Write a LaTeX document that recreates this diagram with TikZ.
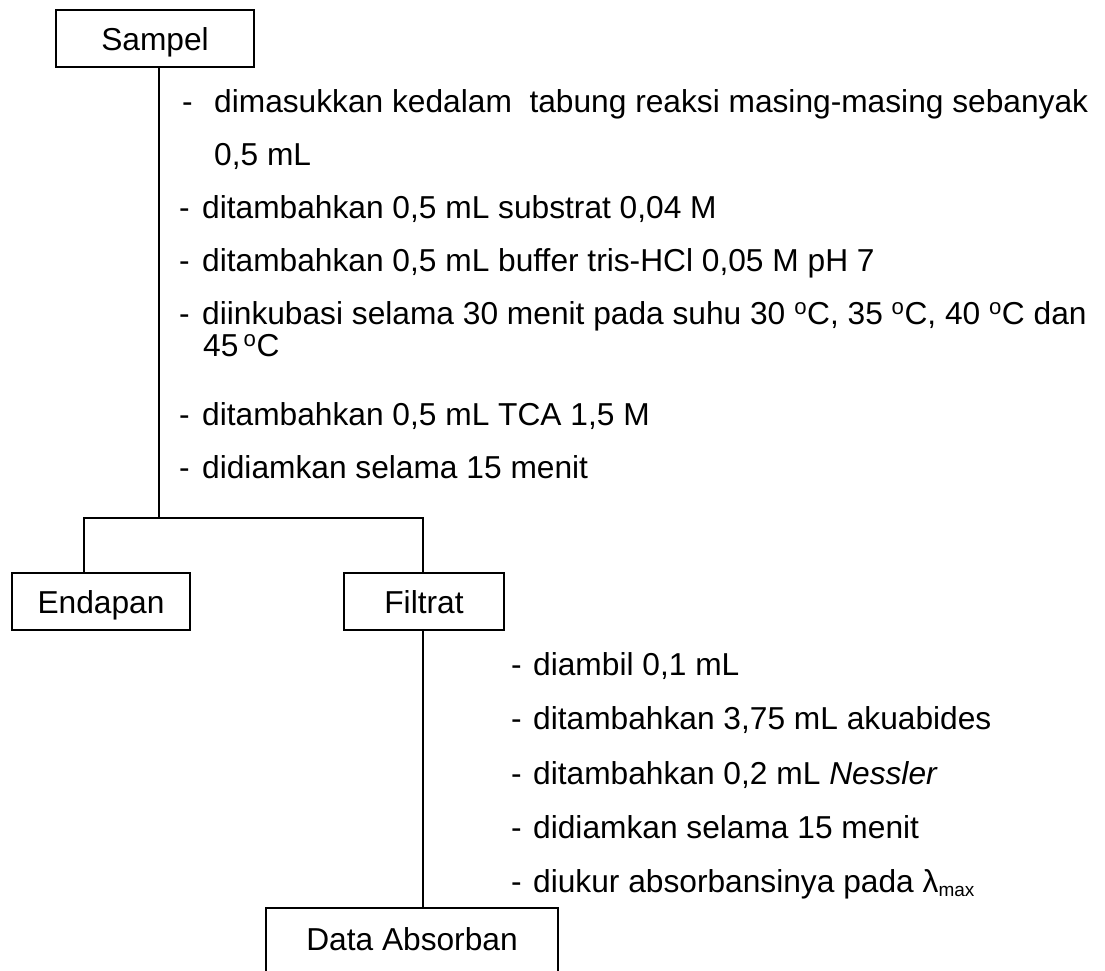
\documentclass[tikz,border=0pt]{standalone}
\usepackage{fontspec}
\setmainfont{Liberation Sans}
\begin{document}
\begin{tikzpicture}[x=1pt,y=-1pt,
  box/.style={draw,line width=1.8pt,rectangle,inner xsep=0pt,inner ysep=17pt,
    text height=23pt,text depth=0pt,anchor=base,font=\fontsize{31.7}{38}\selectfont},
  item/.style={anchor=base west,inner sep=0pt,font=\fontsize{31.7}{38}\selectfont},
  conn/.style={line width=1.8pt}]
\useasboundingbox (0,0) rectangle (1105,970);
\clip (0,0) rectangle (1105,970);
% boxes
\node[box,minimum width=198pt] (sampel) at (155,50) {Sampel};
\node[box,minimum width=178pt] (endapan) at (101,613) {Endapan};
\node[box,minimum width=160pt] (filtrat) at (424,613) {Filtrat};
\node[box,minimum width=292pt,inner ysep=19pt,text depth=10pt] (data) at (412,950) {Data Absorban};
% junctions
\coordinate (j) at (159,518);
\coordinate (jl) at (84,518);
\coordinate (jr) at (423,518);
\draw[conn] (sampel.south -| j) -- (j);
\draw[conn] (endapan.north -| jl) -- (jl) -- (jr) -- (filtrat.north -| jr);
\draw[conn] (filtrat.south -| jr) -- (data.north -| jr);
% upper list
\node[item] (u1) at (182,112) {\makebox[32pt][l]{-}dimasukkan kedalam\ \ tabung reaksi masing-masing sebanyak};
\node[item] (u1b) at (214,165) {0,5 mL};
\node[item] (u2) at (179,218) {\makebox[23pt][l]{-}ditambahkan 0,5 mL substrat 0,04 M};
\node[item] (u3) at (179,271) {\makebox[23pt][l]{-}ditambahkan 0,5 mL buffer tris-HCl 0,05 M pH 7};
\node[item] (u4) at (179,324) {\makebox[23pt][l]{-}diinkubasi selama 30 menit pada suhu 30 \textsuperscript{o}C, 35 \textsuperscript{o}C, 40 \textsuperscript{o}C dan};
\node[item] (u4b) at (203,356) {45\,\textsuperscript{o}C};
\node[item] (u5) at (179,425) {\makebox[23pt][l]{-}ditambahkan 0,5 mL TCA 1,5 M};
\node[item] (u6) at (179,478) {\makebox[23pt][l]{-}didiamkan selama 15 menit};
% lower list
\node[item] (l1) at (511,675) {\makebox[22pt][l]{-}diambil 0,1 mL};
\node[item] (l2) at (511,729) {\makebox[22pt][l]{-}ditambahkan 3,75 mL akuabides};
\node[item] (l3) at (511,784) {\makebox[22pt][l]{-}ditambahkan 0,2 mL \textit{Nessler}};
\node[item] (l4) at (511,838) {\makebox[22pt][l]{-}didiamkan selama 15 menit};
\node[item] (l5) at (511,892) {\makebox[22pt][l]{-}diukur absorbansinya pada λ\raisebox{-0.25ex}{\fontsize{19}{22}\selectfont max}};
\end{tikzpicture}
\end{document}
